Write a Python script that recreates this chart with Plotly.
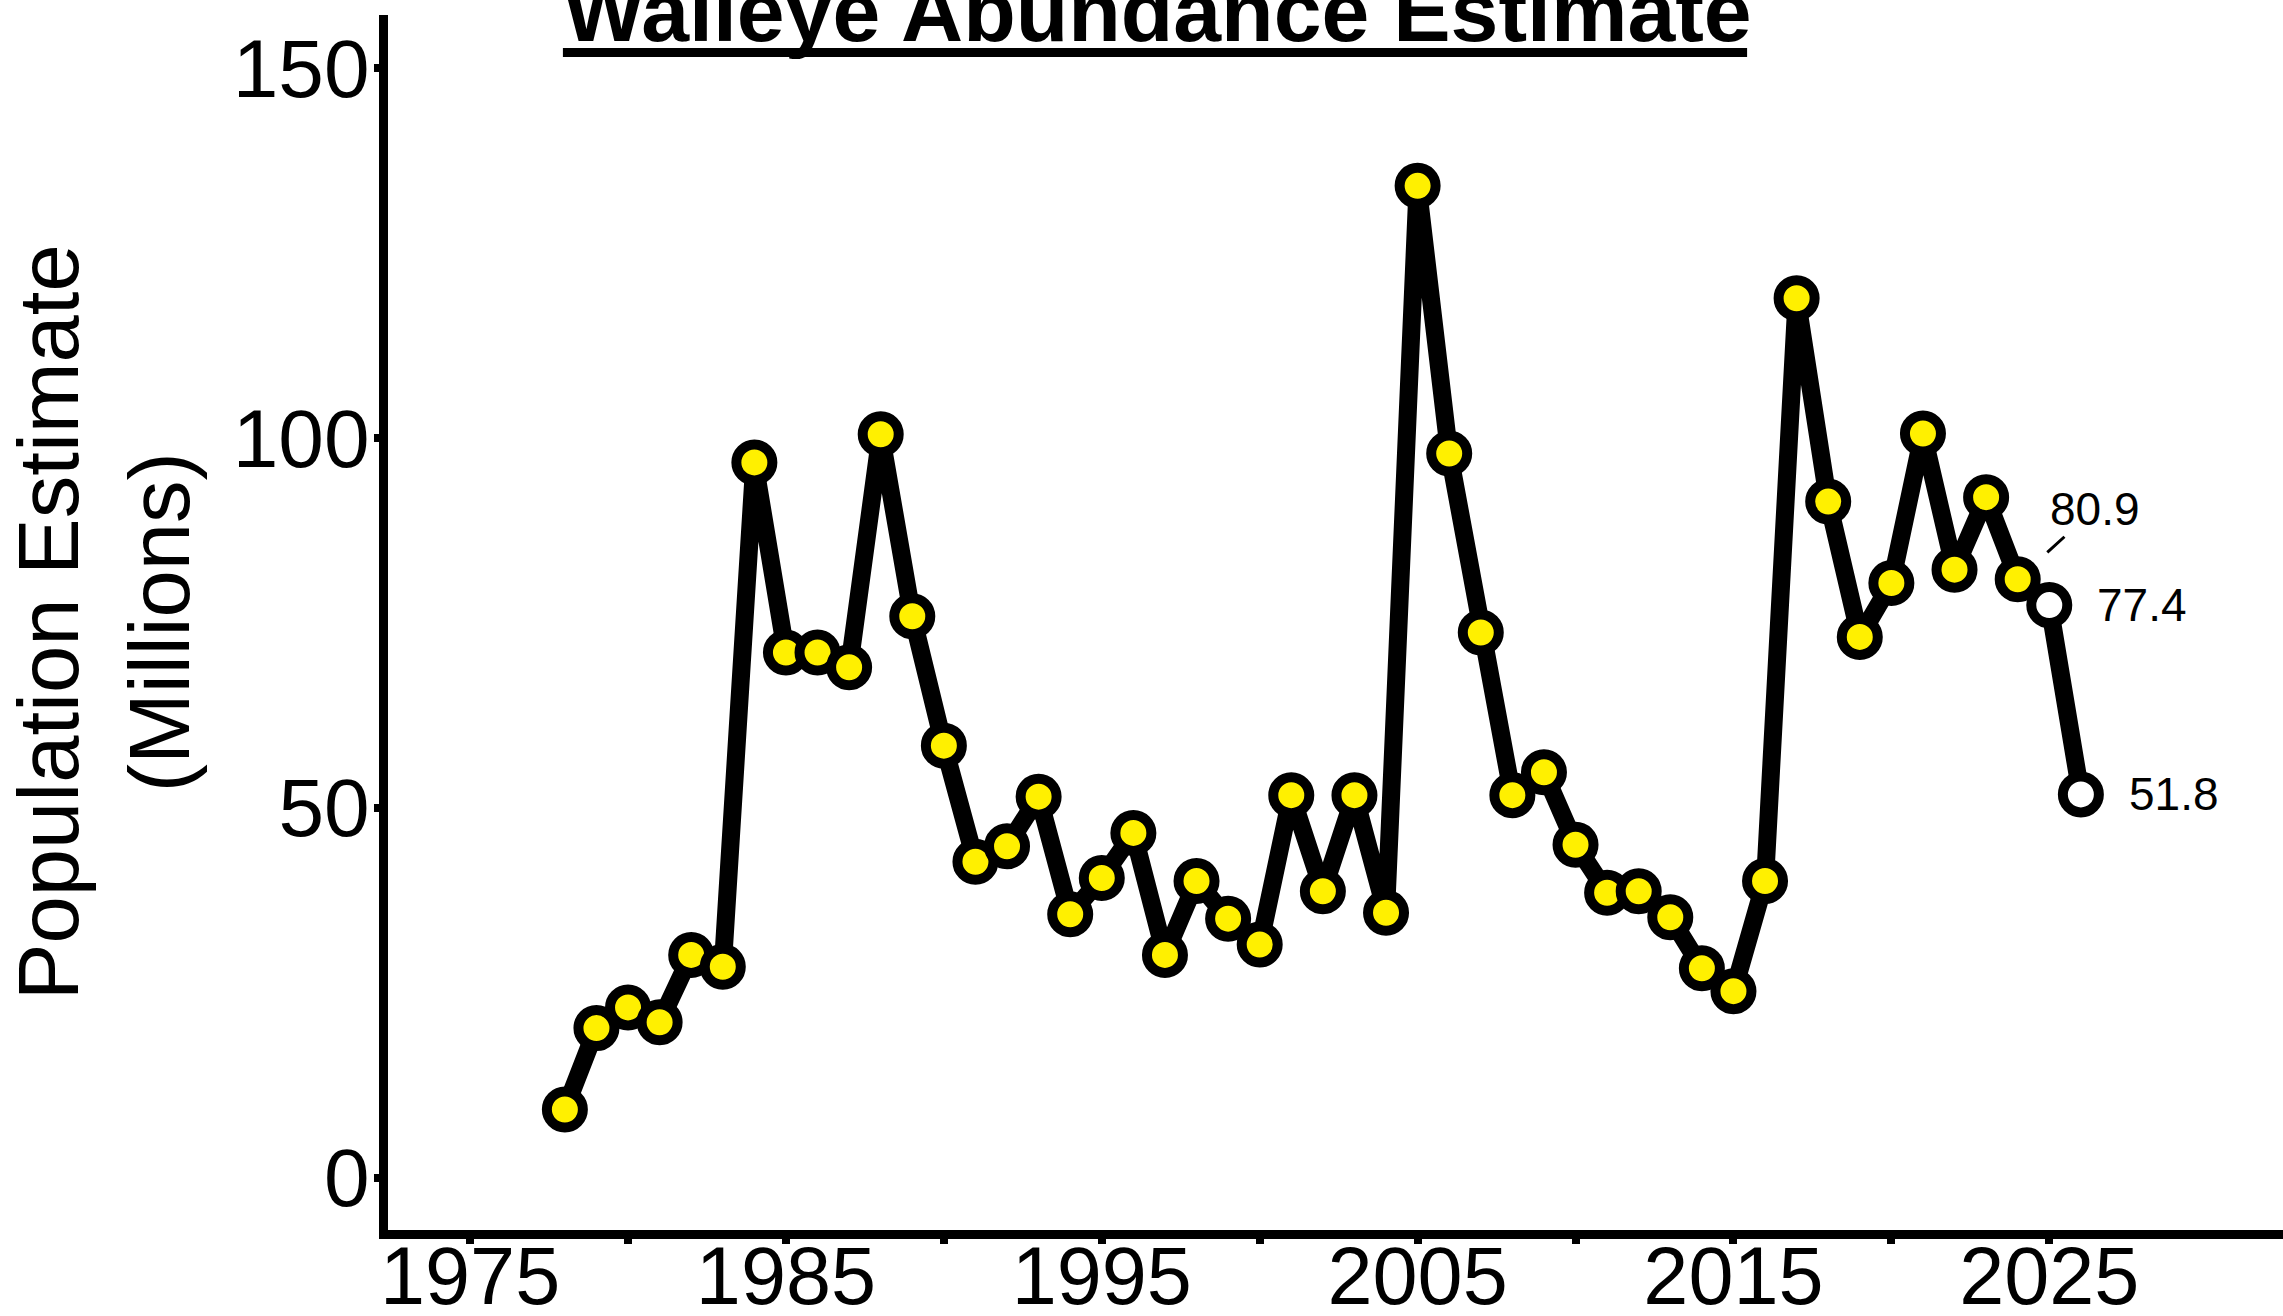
import plotly.graph_objects as go

# ---- data ----
years = list(range(1978, 2027))
population = [
    9.2, 20.2, 23.0, 21.0, 30.1, 28.5, 96.7, 71.0, 71.0, 69.0,
    100.5, 75.9, 58.4, 42.7, 44.8, 51.5, 35.6, 40.5, 46.6, 30.1,
    40.1, 35.0, 31.5, 51.7, 38.7, 51.7, 35.8, 134.1, 97.9, 73.7,
    51.7, 54.8, 45.0, 38.5, 38.7, 35.2, 28.3, 25.2, 40.1, 118.9,
    91.4, 73.1, 80.4, 100.6, 82.2, 92.0, 80.9, 77.4, 51.8,
]
projected_years = [2025, 2026]
label_years = [2024, 2025, 2026]
label_texts = ["80.9", "77.4", "51.8"]

x_tickvals = [1975, 1980, 1985, 1990, 1995, 2000, 2005, 2010, 2015, 2020, 2025]
x_ticktext = ["1975", "", "1985", "", "1995", "", "2005", "", "2015", "", "2025"]
y_tickvals = [0, 50, 100, 150]
y_ticktext = ["0", "50", "100", "150"]

title_text = "Walleye Abundance Estimate"
y_title = "Population Estimate<br>(Millions)"

FONT = "Liberation Sans, Arial, Helvetica, sans-serif"
YELLOW = "#FFF000"

fill_colors = ["white" if y in projected_years else YELLOW for y in years]

fig = go.Figure()
fig.add_trace(go.Scatter(
    x=years, y=population, mode="lines+markers",
    line=dict(color="black", width=18),
    marker=dict(size=36, color=fill_colors, line=dict(color="black", width=10)),
    showlegend=False, hoverinfo="x+y",
))

val = dict(zip(years, population))
for yr, txt in zip(label_years, label_texts):
    if yr == label_years[0]:
        fig.add_annotation(
            x=yr, y=val[yr], text=txt, showarrow=True, arrowhead=0,
            arrowwidth=3, arrowcolor="black", ax=77, ay=-70, standoff=40,
            font=dict(family=FONT, size=46, color="black"),
        )
    else:
        fig.add_annotation(
            x=yr, y=val[yr], text=txt, showarrow=False,
            xanchor="left", yanchor="middle", xshift=46,
            font=dict(family=FONT, size=46, color="black"),
        )

# y-axis title as rotated annotation
fig.add_annotation(
    xref="paper", yref="paper", x=-0.150, y=0.5, text=y_title,
    textangle=-90, showarrow=False, xanchor="center", yanchor="middle",
    font=dict(family=FONT, size=85, color="black"),
)

# thick title underline
fig.add_shape(
    type="line", xref="paper", yref="paper",
    x0=0.0923, x1=0.7172, y0=0.9691, y1=0.9691,
    line=dict(color="black", width=9),
)

fig.update_layout(
    width=2283, height=1316,
    margin=dict(l=388, r=0, t=15, b=86),
    paper_bgcolor="white", plot_bgcolor="white",
    font=dict(family=FONT, color="black"),
    title=dict(
        text="<b>" + title_text + "</b>",
        x=0.507, xanchor="center", xref="container",
        y=0.969, yanchor="bottom", yref="container",
        font=dict(family=FONT, size=86, color="black"),
    ),
    xaxis=dict(
        range=[1972.4, 2032.4], tickvals=x_tickvals, ticktext=x_ticktext,
        showgrid=False, zeroline=False, showline=True, linecolor="black",
        linewidth=9, ticks="outside", ticklen=5, tickwidth=8, tickcolor="black",
        tickfont=dict(family=FONT, size=81, color="black"),
        ticklabelstandoff=-37,
        automargin=False,
    ),
    yaxis=dict(
        range=[-7.1, 157.2], tickvals=y_tickvals, ticktext=y_ticktext,
        showgrid=False, zeroline=False, showline=True, linecolor="black",
        linewidth=9, ticks="outside", ticklen=5, tickwidth=8, tickcolor="black",
        tickfont=dict(family=FONT, size=82, color="black"),
        ticklabelstandoff=-12,
        automargin=False,
    ),
)

fig.write_html(
    "out.html",
    config={"displayModeBar": False},
    post_script="document.body.style.margin='0px';",
)
